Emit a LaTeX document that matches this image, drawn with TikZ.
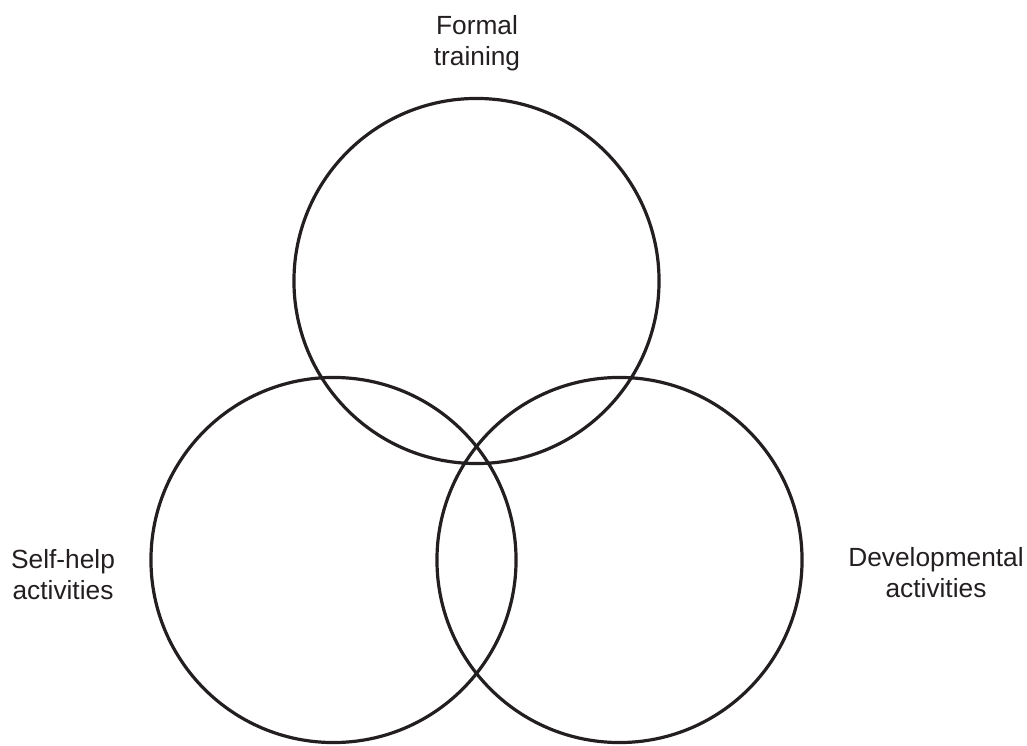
\documentclass[tikz,border=0pt]{standalone}
\usepackage{fontspec}
\setmainfont{Liberation Sans}
\definecolor{ink}{HTML}{231F20}

\begin{document}
\begin{tikzpicture}[
            x = 0.025cm, y = 0.025cm, % one unit = one pixel
            line width = 0.08cm, % line style
            every node/.style = {text = ink, font = \fontsize{18.7}{22}\selectfont}
        ]

        \tikzstyle{set}=[
            circle,
            draw = ink,
            inner sep = 0pt,
            minimum size = 9.125cm
        ]
        \tikzstyle{caption}=[
            align = center,
            inner sep = 0pt
        ]

        \useasboundingbox (0,0) rectangle (1027,745);

        \node[set] (formal) at (476.5,464) {};
        \node[set] (selfhelp) at (333.5,185) {};
        \node[set] (devel) at (619.5,185) {};

        \node[caption] (formaltxt) at (477,702) {Formal\\training};
        \node[caption] (selfhelptxt) at (63,170) {Self-help\\activities};
        \node[caption] (develtxt) at (936,172) {Developmental\\activities};

\end{tikzpicture}
\end{document}
